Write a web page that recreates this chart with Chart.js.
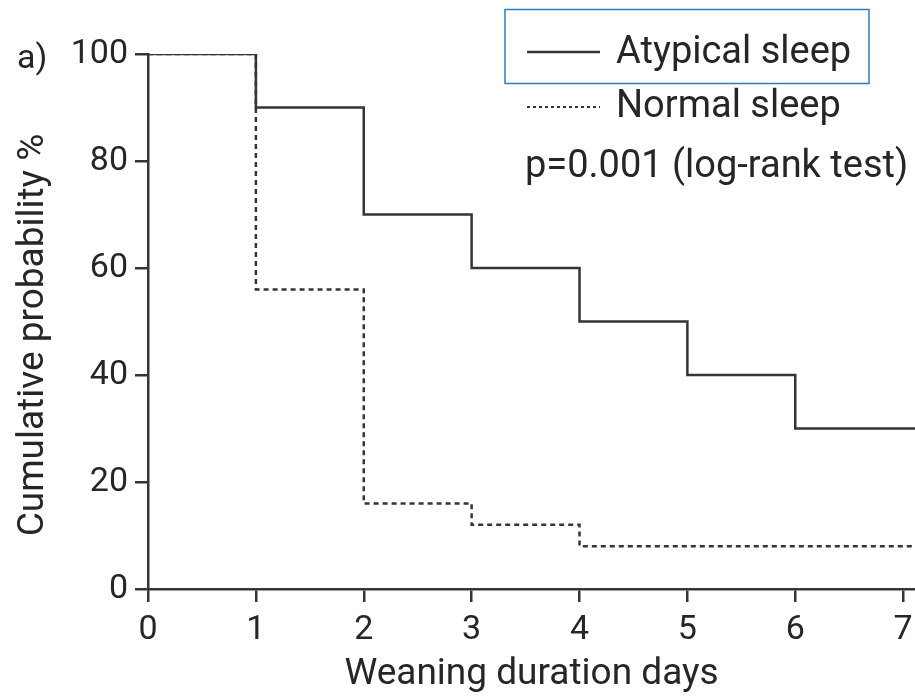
<!DOCTYPE html>
<html>
<head>
<meta charset="utf-8">
<script src="https://cdn.jsdelivr.net/npm/chart.js@4/dist/chart.umd.min.js"></script>
<style>
  html, body { margin: 0; padding: 0; background: #ffffff; }
  #wrap { width: 915px; height: 698px; position: relative; }
</style>
</head>
<body>
<div id="wrap"><canvas id="c" width="915" height="698"></canvas></div>
<script>
// ---- Data ----
const atypicalDays  = [0, 1, 2, 3, 4, 5, 6, 7.11];
const atypicalProb  = [100, 90, 70, 60, 50, 40, 30, 30];
const normalDays    = [0, 1, 2, 3, 4, 7.11];
const normalProb    = [100, 56, 16, 12, 8, 8];
const xTickValues   = [0, 1, 2, 3, 4, 5, 6, 7];
const yTickValues   = [0, 20, 40, 60, 80, 100];
const seriesLabels  = ['Atypical sleep', 'Normal sleep'];
const statText      = 'p=0.001 (log-rank test)';
const panelLabel    = 'a)';
const xTitle        = 'Weaning duration days';
const yTitle        = 'Cumulative probability %';

const INK = '#262626';
const LINE = '#353535';
const FONT = 'Roboto, "DejaVu Sans", sans-serif';

const toPts = (xs, ys) => xs.map((x, i) => ({ x: x, y: ys[i] }));

const overlay = {
  id: 'overlay',
  afterDraw(chart) {
    const ctx = chart.ctx;
    ctx.save();
    // blue frame around first legend entry
    ctx.strokeStyle = '#2a7cc4';
    ctx.lineWidth = 1.5;
    ctx.strokeRect(505, 9.5, 364, 74);

    // legend entries
    const ds = chart.data.datasets;
    const rows = [52, 107];
    const base = [63, 117];
    ctx.font = '38px ' + FONT;
    ctx.textBaseline = 'alphabetic';
    ctx.textAlign = 'left';
    ds.forEach((d, i) => {
      ctx.strokeStyle = d.borderColor;
      ctx.lineWidth = i === 0 ? 2.5 : 2;
      ctx.setLineDash(i === 0 ? [] : [3, 3]);
      ctx.beginPath();
      ctx.moveTo(527, rows[i]);
      ctx.lineTo(600, rows[i]);
      ctx.stroke();
      ctx.setLineDash([]);
      ctx.fillStyle = INK;
      ctx.fillText(d.label, 616, base[i]);
    });
    ctx.fillText(statText, 525, 177);

    // panel label
    ctx.font = '34px ' + FONT;
    ctx.fillText(panelLabel, 17, 68);

    // y axis title
    ctx.font = '37px ' + FONT;
    ctx.translate(43, 335);
    ctx.rotate(-Math.PI / 2);
    ctx.textAlign = 'center';
    ctx.fillText(yTitle, 0, 0);
    ctx.restore();
  }
};

new Chart(document.getElementById('c'), {
  type: 'line',
  data: {
    datasets: [
      {
        label: seriesLabels[0],
        data: toPts(atypicalDays, atypicalProb),
        borderColor: LINE,
        borderWidth: 2.5,
        stepped: 'before',
        pointRadius: 0,
        fill: false
      },
      {
        label: seriesLabels[1],
        data: toPts(normalDays, normalProb),
        borderColor: LINE,
        borderWidth: 2.5,
        borderDash: [5, 4],
        stepped: 'before',
        pointRadius: 0,
        fill: false
      }
    ]
  },
  options: {
    responsive: false,
    animation: false,
    layout: { padding: { top: 54, right: 0, bottom: 0, left: 0 } },
    plugins: {
      legend: { display: false },
      tooltip: { enabled: false }
    },
    scales: {
      x: {
        type: 'linear',
        min: 0,
        max: 7.11,
        afterBuildTicks: (s) => { s.ticks = xTickValues.map(v => ({ value: v })); },
        afterFit: (s) => { s.height = 109; s.paddingLeft = 0; s.paddingRight = 0; },
        border: { display: true, color: LINE, width: 2.5 },
        grid: { drawOnChartArea: false, drawTicks: true, tickLength: 13, color: LINE, lineWidth: 2.5 },
        ticks: { color: INK, font: { family: FONT, size: 34 }, padding: 8, maxRotation: 0, autoSkip: false },
        title: { display: true, text: xTitle, color: INK, font: { family: FONT, size: 37 }, padding: { top: 0, bottom: 1 } }
      },
      y: {
        type: 'linear',
        min: 0,
        max: 100,
        afterBuildTicks: (s) => { s.ticks = yTickValues.map(v => ({ value: v })); },
        afterFit: (s) => { s.width = 148; s.paddingTop = 0; s.paddingBottom = 0; },
        border: { display: true, color: LINE, width: 2.5 },
        grid: { drawOnChartArea: false, drawTicks: true, tickLength: 13, color: LINE, lineWidth: 2.5 },
        ticks: { color: INK, font: { family: FONT, size: 34 }, padding: 7, autoSkip: false }
      }
    }
  },
  plugins: [overlay]
});
</script>
</body>
</html>
